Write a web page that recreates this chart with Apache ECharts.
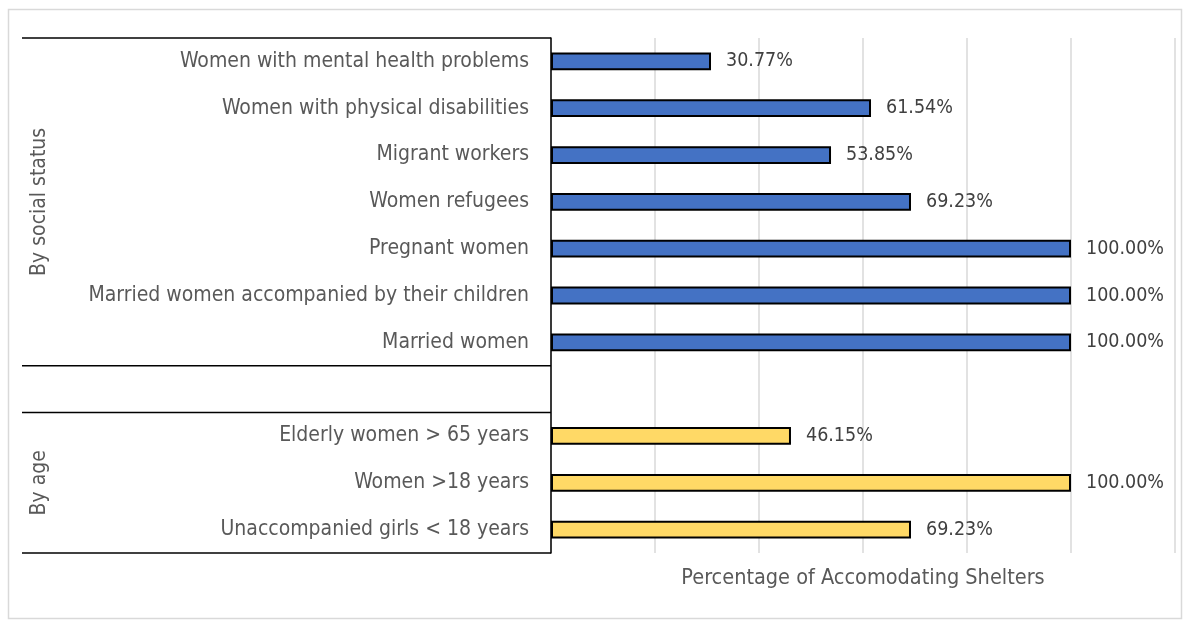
<!DOCTYPE html>
<html>
<head>
<meta charset="utf-8">
<script src="https://cdn.jsdelivr.net/npm/echarts@6/dist/echarts.min.js"></script>
<style>html,body{margin:0;padding:0;background:#fff;}#c{width:1190px;height:621px;}</style>
</head>
<body>
<div id="c"></div>
<script>
const socialGroupLabel = 'By social status';
const socialCategories = ['Women with mental health problems','Women with physical disabilities','Migrant workers','Women refugees','Pregnant women','Married women accompanied by their children','Married women'];
const socialValues = [30.77, 61.54, 53.85, 69.23, 100, 100, 100];
const ageGroupLabel = 'By age';
const ageCategories = ['Elderly women > 65 years','Women >18 years','Unaccompanied girls < 18 years'];
const ageValues = [46.15, 100, 69.23];
const axisTitle = 'Percentage of Accomodating Shelters';

const FONT = '"DejaVu Sans Condensed", "Liberation Sans Narrow", sans-serif';
const categories = socialCategories.concat([''], ageCategories);
const socialData = categories.map((c, i) => i < socialCategories.length ? socialValues[i] : '-');
const ageData = categories.map((c, i) => i > socialCategories.length ? ageValues[i - socialCategories.length - 1] : '-');

const chart = echarts.init(document.getElementById('c'));
const labelCfg = {show: true, position: 'right', distance: 15, color: '#404040', fontSize: 19.5, fontFamily: FONT, formatter: p => p.value.toFixed(2) + '%'};
chart.setOption({
  animation: false,
  grid: {left: 551, right: 15, top: 38, bottom: 68, containLabel: false},
  xAxis: {type: 'value', min: 0, max: 120, interval: 20,
    axisLabel: {show: false}, axisLine: {show: false}, axisTick: {show: false},
    splitLine: {show: true, lineStyle: {color: '#D9D9D9', width: 1.5}},
    name: axisTitle, nameLocation: 'middle', nameGap: 14,
    nameTextStyle: {color: '#595959', fontSize: 21.5, fontFamily: FONT}},
  yAxis: {type: 'category', inverse: true, data: categories,
    axisLine: {show: true, lineStyle: {color: '#000', width: 1.5}}, axisTick: {show: false},
    axisLabel: {color: '#595959', fontSize: 21, fontFamily: FONT, margin: 22}},
  series: [
    {type: 'bar', stack: 's', data: socialData, barWidth: '38%', itemStyle: {color: '#4472C4', borderColor: '#000', borderWidth: 2}, label: labelCfg},
    {type: 'bar', stack: 's', data: ageData, barWidth: '38%', itemStyle: {color: '#FFD966', borderColor: '#000', borderWidth: 2}, label: labelCfg}
  ]
});

function draw() {
  const n = categories.length;
  const x0 = chart.convertToPixel({gridIndex: 0}, [0, 0])[0];
  const yc = i => chart.convertToPixel({yAxisIndex: 0}, i);
  const step = yc(1) - yc(0);
  const edgeAt = i => yc(i) - step / 2;
  const sN = socialCategories.length;
  const bounds = [edgeAt(0), edgeAt(sN), edgeAt(sN + 1), edgeAt(n)];
  const elems = [{type: 'rect', shape: {x: 8.5, y: 9.5, width: 1173, height: 609}, style: {fill: null, stroke: '#D9D9D9', lineWidth: 1.5}, z: -1}];
  bounds.forEach(y => elems.push({type: 'line', shape: {x1: 22, y1: y, x2: x0, y2: y}, style: {stroke: '#000', lineWidth: 1.5}}));
  elems.push({type: 'text', x: 40, y: (bounds[0] + bounds[1]) / 2, rotation: Math.PI / 2,
    style: {text: socialGroupLabel, fill: '#595959', font: '21px ' + FONT, align: 'center', verticalAlign: 'middle'}});
  elems.push({type: 'text', x: 40, y: (bounds[2] + bounds[3]) / 2, rotation: Math.PI / 2,
    style: {text: ageGroupLabel, fill: '#595959', font: '21px ' + FONT, align: 'center', verticalAlign: 'middle'}});
  chart.setOption({graphic: {elements: elems}});
}
draw();
</script>
</body>
</html>
